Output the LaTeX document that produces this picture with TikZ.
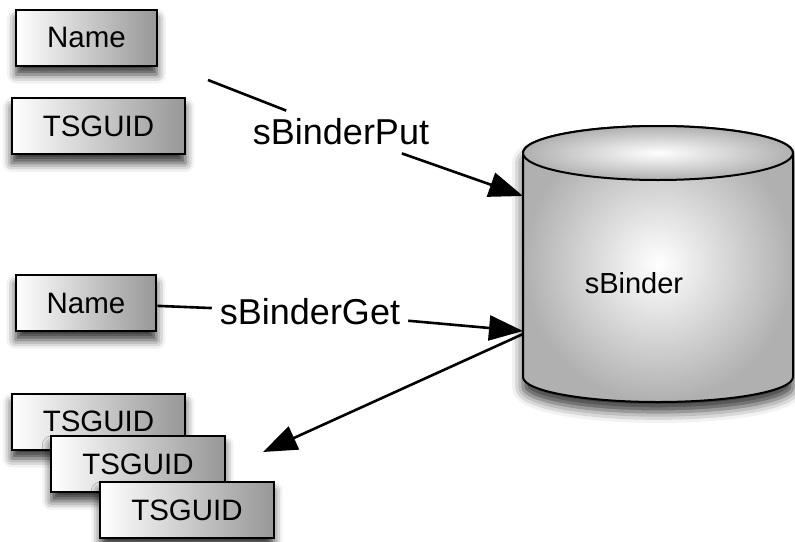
\documentclass[tikz,border=0pt]{standalone}
\usepackage{fontspec}
\setmainfont{Liberation Sans}
\usepackage{xcolor}
\definecolor{boxShade}{HTML}{979797}
\definecolor{cylShade}{HTML}{B0B0B0}
\usepackage{tikz}
\usetikzlibrary{arrows.meta, shadows.blur}

\tikzset{
  databox/.style={draw, line width=2pt, left color=white, right color=boxShade,
    font=\fontsize{29.5}{32}\selectfont, minimum height=56pt, inner xsep=31pt,
    blur shadow={shadow xshift=0pt, shadow yshift=-9pt, shadow blur radius=9pt,
      shadow opacity=80}},
  callname/.style={font=\fontsize{36}{40}\selectfont, inner sep=8pt},
  flow/.style={line width=2.6pt, -{Triangle[length=34pt,width=25pt,fill=black]}}
}

\begin{document}
\begin{tikzpicture}[x=1pt,y=1pt]
  \useasboundingbox (0,0) rectangle (795,-541);

  % the binder store
  \draw[line width=2pt, inner color=white, outer color=cylShade,
    blur shadow={shadow xshift=0pt, shadow yshift=-10pt, shadow blur radius=11pt,
      shadow opacity=80}]
    (523,-153) -- (523,-377) arc[start angle=180, end angle=360, x radius=135, y radius=25]
    -- (793,-153) arc[start angle=0, end angle=180, x radius=135, y radius=27] -- cycle;
  \draw[line width=2pt, inner color=white, outer color=cylShade]
    (658,-153) ellipse[x radius=135, y radius=27];
  \node[font=\fontsize{29}{32}\selectfont] (sbinder) at (634,-283) {sBinder};
  \coordinate (putin) at (523,-196);
  \coordinate (getin) at (523,-331);
  \coordinate (getout) at (523,-334);

  \node[databox] (name1) at (86.5,-37.5) {Name};
  \node[databox] (guid1) at (98.5,-126) {TSGUID};
  \node[databox] (name2) at (86,-303) {Name};
  \foreach \n/\x/\y in {a/98.5/-421.5, b/138/-464, c/187/-510}
    \node[databox] (guid\n) at (\x,\y) {TSGUID};

  \node[callname] (putlabel) at (341,-132) {sBinderPut};
  \node[callname] (getlabel) at (310,-312) {sBinderGet};

  \coordinate (putfrom) at (208,-80);
  \coordinate (stackto) at (263,-452);
  \draw[line width=2.6pt] (putfrom) -- (putlabel);
  \draw[flow] (putlabel) -- (putin);
  \draw[line width=2.6pt] (name2) -- (getlabel);
  \draw[flow] (getlabel) -- (getin);
  \draw[flow] (getout) -- (stackto);
\end{tikzpicture}
\end{document}
